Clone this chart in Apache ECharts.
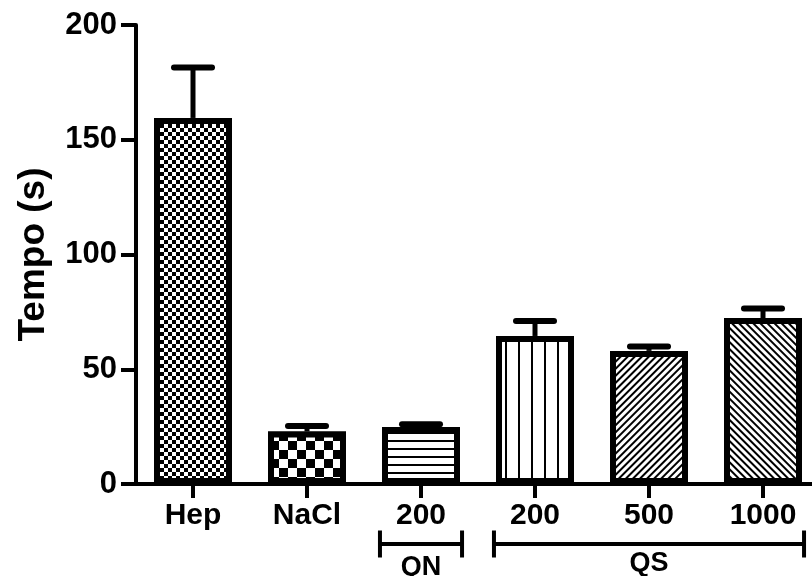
<!DOCTYPE html>
<html>
<head>
<meta charset="utf-8">
<script src="https://cdn.jsdelivr.net/npm/echarts@6/dist/echarts.min.js"></script>
<style>
html,body{margin:0;padding:0;background:#fff;overflow:hidden;width:812px;height:576px;}
#chart{width:820px;height:576px;}
</style>
</head>
<body>
<div id="chart"></div>
<script>
// ---- data ----
const categories = ['Hep', 'NaCl', '200', '200', '500', '1000'];
const means = [159.5, 22.9, 24.8, 64.5, 58.0, 72.3];
const errors = [22.0, 2.4, 1.2, 6.5, 1.9, 4.2];
const yMin = 0, yMax = 200, yInterval = 50;
const groupLabels = ['QN', 'QS'];
const groupFrom = [2, 3];
const groupTo = [2, 5];
const yTitle = 'Tempo (s)';

// ---- styles ----
const FONT = 'Arial, "Liberation Sans", Helvetica, sans-serif';
const decals = [
  {symbol: 'rect', symbolSize: 1, color: '#000', backgroundColor: '#fff',
   dashArrayX: [[4, 4], [0, 4, 4, 0]], dashArrayY: [4, 0]},
  {symbol: 'rect', symbolSize: 1, color: '#000', backgroundColor: '#fff',
   dashArrayX: [[8.5, 8.5], [0, 8.5, 8.5, 0]], dashArrayY: [8.5, 0]},
  {symbol: 'rect', symbolSize: 1, color: '#000', backgroundColor: '#fff',
   dashArrayX: [10, 0], dashArrayY: [2, 6]},
  {symbol: 'rect', symbolSize: 1, color: '#000', backgroundColor: '#fff', rotation: Math.PI / 2,
   dashArrayX: [10, 0], dashArrayY: [2, 11]},
  {symbol: 'rect', symbolSize: 1, color: '#000', backgroundColor: '#fff', rotation: -Math.PI / 4,
   dashArrayX: [10, 0], dashArrayY: [1.3, 2.6]},
  {symbol: 'rect', symbolSize: 1, color: '#000', backgroundColor: '#fff', rotation: Math.PI / 4,
   dashArrayX: [10, 0], dashArrayY: [1.3, 2.6]}
];

const chart = echarts.init(document.getElementById('chart'), null, {renderer: 'canvas'});

const option = {
  animation: false,
  backgroundColor: '#fff',
  grid: {left: 136, right: 0, top: 25, bottom: 92, containLabel: false},
  xAxis: {
    type: 'category',
    data: categories,
    axisLine: {show: true, lineStyle: {color: '#000', width: 4}},
    axisTick: {show: true, alignWithLabel: true, length: 14, lineStyle: {color: '#000', width: 4}},
    axisLabel: {color: '#000', fontSize: 30, fontWeight: 'bold', fontFamily: FONT, margin: 17, interval: 0},
    splitLine: {show: false}
  },
  yAxis: {
    type: 'value',
    min: yMin, max: yMax, interval: yInterval,
    name: yTitle,
    nameLocation: 'middle',
    nameGap: 84,
    nameTextStyle: {color: '#000', fontSize: 37, fontWeight: 'bold', fontFamily: FONT},
    axisLine: {show: true, lineStyle: {color: '#000', width: 4}},
    axisTick: {show: true, length: 15, lineStyle: {color: '#000', width: 4}},
    axisLabel: {color: '#000', fontSize: 31, fontWeight: 'bold', fontFamily: FONT, margin: 19},
    splitLine: {show: false}
  },
  series: [
    {
      type: 'custom',
      z: 1,
      data: means.map((m, i) => [i, m, errors[i]]),
      renderItem: function (params, api) {
        const base = api.coord([api.value(0), api.value(1)]);
        const top = api.coord([api.value(0), api.value(1) + api.value(2)]);
        return {
          type: 'group',
          children: [
            {type: 'line', shape: {x1: base[0], y1: base[1], x2: base[0], y2: top[1]},
             style: {stroke: '#000', lineWidth: 5}},
            {type: 'line', shape: {x1: base[0] - 19, y1: top[1], x2: base[0] + 19, y2: top[1]},
             style: {stroke: '#000', lineWidth: 6, lineCap: 'round'}}
          ]
        };
      }
    },
    {
      type: 'bar',
      z: 2,
      barWidth: 78,
      data: means.map((m, i) => ({
        value: m,
        itemStyle: {color: '#fff', borderColor: '#000', borderWidth: 6, decal: decals[i]}
      }))
    }
  ]
};
chart.setOption(option);

// group brackets under the x axis
function drawBrackets() {
  const c0 = chart.convertToPixel({xAxisIndex: 0}, 0);
  const c1 = chart.convertToPixel({xAxisIndex: 0}, 1);
  const bw = c1 - c0;
  const y0 = chart.convertToPixel({yAxisIndex: 0}, 0);
  const lineY = y0 + 60;
  const els = [];
  const labelTops = [y0 + 70, y0 + 66];
  groupLabels.forEach((lab, g) => {
    const xa = chart.convertToPixel({xAxisIndex: 0}, groupFrom[g]) - bw * 0.36;
    const xb = chart.convertToPixel({xAxisIndex: 0}, groupTo[g]) + bw * 0.36;
    els.push({type: 'line', shape: {x1: xa, y1: lineY, x2: xb, y2: lineY}, style: {stroke: '#000', lineWidth: 4}});
    els.push({type: 'line', shape: {x1: xa, y1: lineY - 13.5, x2: xa, y2: lineY + 13.5}, style: {stroke: '#000', lineWidth: 4}});
    els.push({type: 'line', shape: {x1: xb, y1: lineY - 13.5, x2: xb, y2: lineY + 13.5}, style: {stroke: '#000', lineWidth: 4}});
    els.push({type: 'text', x: (xa + xb) / 2, y: labelTops[g],
      style: {text: lab, fill: '#000', font: 'bold 27px ' + FONT, textAlign: 'center', textVerticalAlign: 'top'}});
  });
  chart.setOption({graphic: {elements: els}});
}
drawBrackets();
</script>
</body>
</html>
